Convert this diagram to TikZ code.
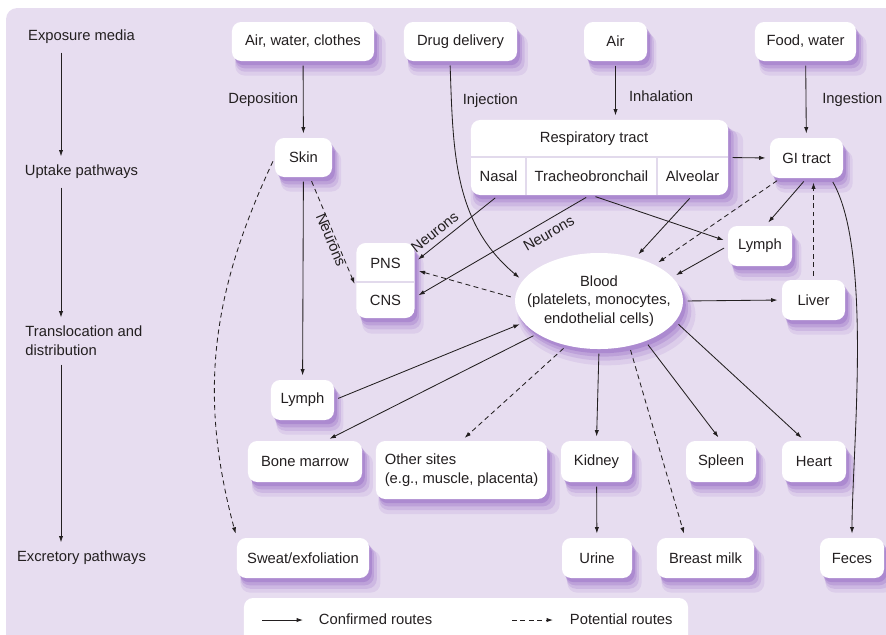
\documentclass[tikz,border=0pt]{standalone}
\usepackage{fontspec}
\setmainfont{Liberation Sans}
\usetikzlibrary{shapes.geometric, shadows, arrows.meta}

\definecolor{bgcol}{RGB}{231,221,240}
\definecolor{shcol}{RGB}{125,70,185}
\definecolor{divcol}{RGB}{226,218,236}
\definecolor{txtcol}{RGB}{35,31,32}

\begin{document}
\begin{tikzpicture}[
  x=0.025cm, y=0.025cm,
  >={Latex[length=4.5pt,width=3pt]},
  font=\fontsize{10.5pt}{13.3pt}\selectfont,
  text=txtcol,
  shd/.style={general shadow={shadow xshift=5pt, shadow yshift=-9pt, shadow scale=1.06, fill=shcol, opacity=0.1},
              general shadow={shadow xshift=4pt, shadow yshift=-7pt, shadow scale=1.03, fill=shcol, opacity=0.15},
              general shadow={shadow xshift=3pt, shadow yshift=-5pt, shadow scale=1.01, fill=shcol, opacity=0.2},
              general shadow={shadow xshift=2pt, shadow yshift=-3pt, fill=shcol, opacity=0.25}},
  box/.style={rectangle, rounded corners=6.5pt, fill=white, shd, minimum height=0.975cm, inner sep=2pt},
  lab/.style={inner sep=3pt},
  line/.style={draw=txtcol, line width=0.6pt},
  arr/.style={->, line, shorten >=3pt, shorten <=3pt},
  pot/.style={dash pattern=on 3.5pt off 2.5pt},
  divider/.style={draw=divcol, line width=1.6pt}
]
  \useasboundingbox (0,0) rectangle (886,-634);
  \fill[bgcol, rounded corners=8pt] (6,-8) rectangle (900,-660);

  % stages on the left
  \coordinate (ax) at (61,0);
  \node[lab] (expo) at (81.5,-37) {Exposure media};
  \node[lab] (upt) at (81.5,-172) {Uptake pathways};
  \node[lab, align=left, anchor=west] (trans) at (21,-341) {Translocation and\\distribution};
  \node[lab] (excr) at (81.5,-558) {Excretory pathways};

  \draw[arr] (expo.south -| ax) -- (upt.north -| ax);
  \draw[arr] (upt.south -| ax) -- (trans.north -| ax);
  \draw[arr] (trans.south -| ax) -- (excr.north -| ax);

  % exposure media
  \node[box, minimum width=3.55cm] (awc) at (303,-41.5) {Air, water, clothes};
  \node[box, minimum width=2.825cm] (drug) at (460.5,-41.5) {Drug delivery};
  \node[box, minimum width=1.575cm] (air) at (615.5,-41.5) {Air};
  \node[box, minimum width=2.525cm] (food) at (805.5,-41.5) {Food, water};

  % uptake
  \node[box, minimum width=1.425cm] (skin) at (303.5,-157.5) {Skin};
  \node[box, minimum width=6.425cm, minimum height=1.875cm] (resp) at (599.5,-157.5) {};
  \node (resphead) at (594,-139) {Respiratory tract};
  \node[minimum width=1.375cm, minimum height=0.95cm] (nasal) at (498.5,-176) {Nasal};
  \node[minimum width=3.275cm, minimum height=0.95cm] (trach) at (591.5,-176) {Tracheobronchail};
  \node[minimum width=1.775cm, minimum height=0.95cm] (alveo) at (692.5,-176) {Alveolar};
  \draw[divider] (nasal.north west) -- (alveo.north east);
  \draw[divider] (nasal.north east) -- (nasal.south east);
  \draw[divider] (trach.north east) -- (trach.south east);
  \node[box, minimum width=1.825cm, minimum height=1cm] (gi) at (806.5,-158) {GI tract};

  % translocation and distribution
  \node[box, minimum width=1.6cm, minimum height=1cm] (lymphR) at (760,-246) {Lymph};
  \node[box, minimum width=1.45cm, minimum height=1.875cm] (pnscns) at (385.5,-280.5) {};
  \node (pns) at (385.5,-263) {PNS};
  \node (cns) at (385.5,-300.5) {CNS};
  \draw[divider] ([yshift=-0.04cm]pnscns.west) -- ([yshift=-0.04cm]pnscns.east);
  \node[ellipse, fill=white, shd, minimum width=4.2cm, minimum height=2.4cm] (blood) at (599,-301) {};
  \node[align=center] (bloodtxt) at (blood.center) {Blood\\(platelets, monocytes,\\endothelial cells)};
  \node[box, minimum width=1.575cm, minimum height=1cm] (liver) at (813.5,-300) {Liver};
  \node[box, minimum width=1.575cm, minimum height=1cm] (lymphL) at (302.5,-400) {Lymph};
  \node[box, minimum width=2.85cm, minimum height=1.025cm] (bone) at (305,-461.5) {Bone marrow};
  \node[box, minimum width=4.275cm, minimum height=1.45cm, align=left] (other) at (461.5,-470) {Other sites\\(e.g., muscle, placenta)};
  \node[box, minimum width=1.775cm, minimum height=1.025cm] (kidney) at (596.5,-461.5) {Kidney};
  \node[box, minimum width=1.75cm, minimum height=1.025cm] (spleen) at (721,-461.5) {Spleen};
  \node[box, minimum width=1.6cm, minimum height=1.025cm] (heart) at (814,-461.5) {Heart};

  % excretion
  \node[box, minimum width=3.3cm, minimum height=1cm] (sweat) at (303,-558) {Sweat/exfoliation};
  \node[box, minimum width=1.75cm, minimum height=1cm] (urine) at (597,-558) {Urine};
  \node[box, minimum width=2.425cm, minimum height=1cm] (breast) at (705.5,-558) {Breast milk};
  \node[box, minimum width=1.6cm, minimum height=1cm] (feces) at (852,-558) {Feces};

  % uptake routes
  \draw[arr] (awc) -- node[left] {Deposition} (skin);
  \draw[arr] (drug.242) to[out=-88, in=140] node[pos=0.15, right=4.5pt] {Injection} (blood.165);
  \draw[arr] (air.south) -- node[pos=0.6, right=6pt] {Inhalation} (air.south |- resp.north);
  \draw[arr] (food) -- node[right=8pt] {Ingestion} (gi);
  \draw[arr] (resp.east) -- (gi.west);

  % from skin
  \draw[arr] (skin) -- (lymphL);
  \draw[arr, pot] (skin.-72) -- node[sloped, pos=0.55, below=-4pt] {Neurons} (pnscns.194);
  \draw[arr, pot] (skin.west) to[out=245, in=105] (sweat.north west);

  % from respiratory tract
  \draw[arr] (nasal.south) -- node[sloped, pos=0.68, above=0.5pt] {Neurons} (pnscns.32);
  \draw[arr] (trach.265) -- node[sloped, pos=0.27, below=1.5pt] {Neurons} (pnscns.-30);
  \draw[arr] (trach.south) -- (lymphR.172);
  \draw[<->, arr] (alveo.south) -- (blood.50);

  % GI tract and liver
  \draw[arr, pot] (gi.218) -- (blood.33);
  \draw[arr] (gi.south) -- (lymphR.75);
  \draw[arr, pot] (liver.north) -- (liver.north |- gi.south);
  \draw[arr] (gi.-40) to[out=-60, in=90, looseness=0.6] (feces.north);
  \draw[arr] (lymphR.west) -- (blood.18);

  % from and to blood
  \draw[arr, pot] (blood.178) -- (pnscns.20);
  \draw[arr] (blood.east) -- (liver.west);
  \draw[arr] (lymphL.east) -- (blood.196);
  \draw[arr] (blood.208) -- (bone.45);
  \draw[arr, pot] (blood.234) -- (other.north);
  \draw[arr] (blood.south) -- (kidney.north);
  \draw[arr, pot] (blood.304) -- (breast.135);
  \draw[arr] (blood.319) -- (spleen.north);
  \draw[arr] (blood.345) -- (heart.114);
  \draw[arr] (kidney) -- (urine);

  % legend
  \node[rectangle, rounded corners=6.5pt, fill=white, minimum width=11.1cm, minimum height=1.5cm] (legend) at (466,-628) {};
  \node[anchor=west] (conf) at (314,-619) {Confirmed routes};
  \node[anchor=west] (poten) at (565,-619) {Potential routes};
  \coordinate (conf0) at (262,-620);
  \coordinate (conf1) at (303,-620);
  \coordinate (poten0) at (512,-620);
  \coordinate (poten1) at (553,-620);
  \draw[->, line] (conf0) -- (conf1);
  \draw[->, line, pot] (poten0) -- (poten1);
\end{tikzpicture}
\end{document}
